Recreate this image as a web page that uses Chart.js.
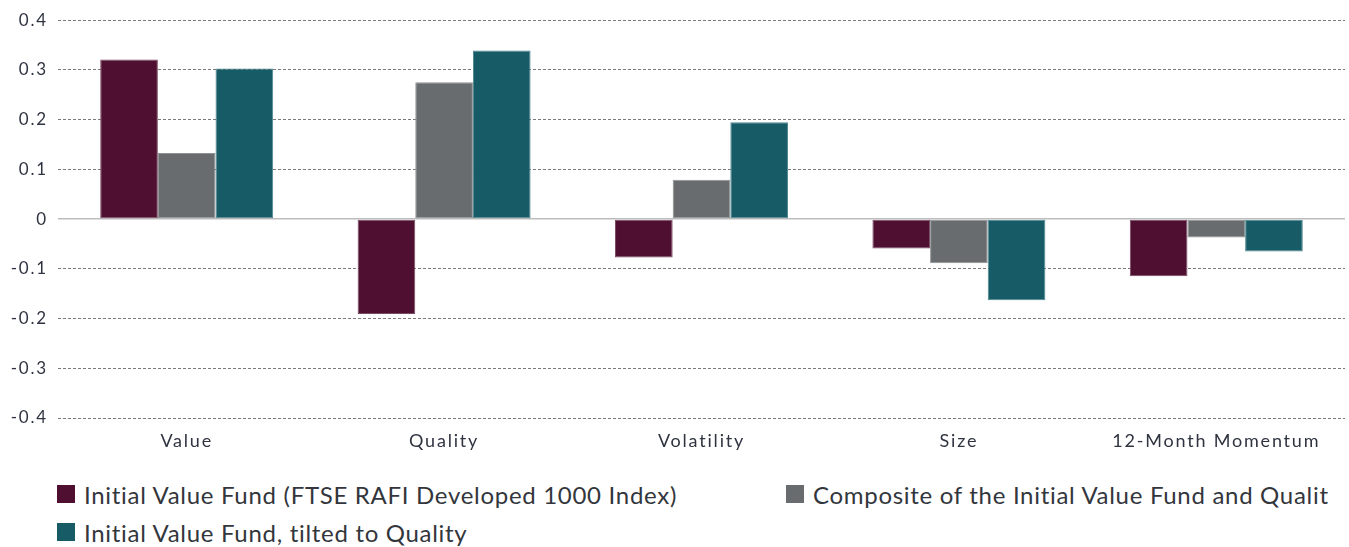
<!DOCTYPE html>
<html>
<head>
<meta charset="utf-8">
<script src="https://cdn.jsdelivr.net/npm/chart.js@4"></script>
<style>
  body { margin: 0; background: #fff; font-family: Lato, "Open Sans", sans-serif; }
  #wrap { position: relative; width: 1349px; height: 547px; overflow: hidden; }
  #legend { position: absolute; left: 0; top: 0; width: 1349px; }
  .item { position: absolute; display: flex; align-items: center; height: 30px; font-size: 24px; letter-spacing: 0.7px; color: #33363c; white-space: nowrap; }
  .box { width: 18px; height: 18px; margin-right: 9px; }
</style>
</head>
<body>
<div id="wrap">
  <canvas id="grafica" width="1349" height="470"></canvas>
  <div id="legend"></div>
</div>
<script>
const categorias = ["Value", "Quality", "Volatility", "Size", "12-Month Momentum"];
const nombres = [
  "Initial Value Fund (FTSE RAFI Developed 1000 Index)",
  "Composite of the Initial Value Fund and Qualit",
  "Initial Value Fund, tilted to Quality"
];
const fondoInicial = [0.321, -0.191, -0.077, -0.059, -0.115];
const compuesto = [0.133, 0.275, 0.079, -0.089, -0.037];
const inclinado = [0.303, 0.339, 0.195, -0.163, -0.065];
const colores = ["#4e0f31", "#686c6e", "#165b66"];
const bordes = ["#7a4a63", "#8e9294", "#4f8790"];

const series = [fondoInicial, compuesto, inclinado];

// el texto del original sale mas ancho, se imita con espaciado
const espaciado = {
  id: "espaciado",
  beforeUpdate: ch => { ch.ctx.letterSpacing = "1.8px"; },
  beforeDraw: ch => { ch.ctx.letterSpacing = "1.8px"; }
};

const ctx = document.getElementById("grafica").getContext("2d");
new Chart(ctx, {
  type: "bar",
  data: {
    labels: categorias,
    datasets: series.map((s, i) => ({
      label: nombres[i],
      data: s,
      backgroundColor: colores[i],
      borderColor: bordes[i],
      borderWidth: 1,
      borderSkipped: false,
      barPercentage: 1,
      categoryPercentage: 0.672
    }))
  },
  options: {
    responsive: false,
    animation: false,
    layout: { padding: { top: 15, right: 4, left: 0, bottom: 0 } },
    plugins: {
      legend: { display: false },
      tooltip: { enabled: false }
    },
    scales: {
      x: {
        grid: { display: false },
        border: { display: false },
        ticks: {
          padding: 4,
          color: "#2f3440",
          font: { family: "Lato", size: 18 }
        },
        afterFit: ax => { ax.height = 52; }
      },
      y: {
        min: -0.4,
        max: 0.4,
        afterFit: ax => { ax.width = 58; },
        ticks: {
          stepSize: 0.1,
          padding: 10,
          color: "#2f3440",
          font: { family: "Lato", size: 17 },
          callback: v => (Math.abs(v) < 1e-9 ? "0" : v.toFixed(1))
        },
        grid: {
          drawTicks: false,
          color: c => (c.tick && Math.abs(c.tick.value) < 1e-9 ? "#bdbdbd" : "#7a7a7a"),
          lineWidth: c => (c.tick && Math.abs(c.tick.value) < 1e-9 ? 1.5 : 1)
        },
        border: {
          display: false,
          dash: c => (c.tick && Math.abs(c.tick.value) < 1e-9 ? [] : [3, 2])
        }
      }
    }
  },
  plugins: [espaciado]
});

// leyenda a mano
const posiciones = [[57, 494], [786, 494], [57, 532]];
const leyenda = document.getElementById("legend");
nombres.forEach((n, i) => {
  const d = document.createElement("div");
  d.className = "item";
  d.style.left = posiciones[i][0] + "px";
  d.style.top = (posiciones[i][1] - 15) + "px";
  d.innerHTML = `<span class="box" style="background:${colores[i]}"></span><span>${n}</span>`;
  leyenda.appendChild(d);
});
</script>
</body>
</html>
